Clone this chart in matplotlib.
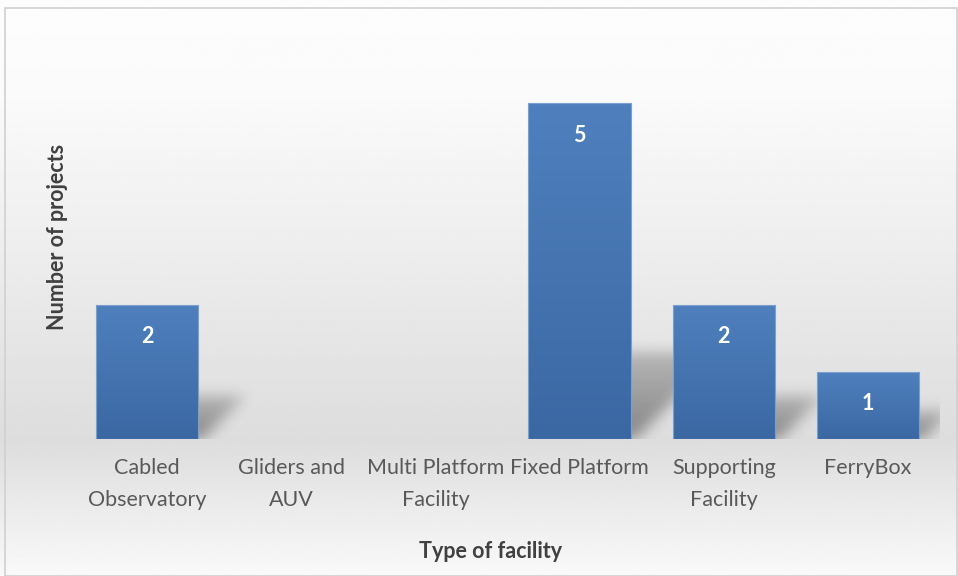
import matplotlib.pyplot as plt
import numpy as np
from matplotlib.patches import Rectangle
from matplotlib.colors import LinearSegmentedColormap

categories = ["Cabled\nObservatory", "Gliders and\nAUV", "Multi Platform\nFacility",
              "Fixed Platform", "Supporting\nFacility", "FerryBox"]
projects = [2, 0, 0, 5, 2, 1]

plt.rcParams['font.family'] = ['Lato', 'DejaVu Sans']

fig = plt.figure(figsize=(9.58, 5.76), dpi=100)

# background gradient over the whole chart
bg = fig.add_axes([0, 0, 1, 1], zorder=-10)
rows = np.linspace(0, 576, 300)
shade = np.interp(rows, [0, 100, 440, 576], [253, 250, 221, 249]) / 255.0
bg.imshow(np.repeat(shade[:, None], 2, axis=1), cmap='gray', vmin=0, vmax=1,
          aspect='auto', extent=[0, 1, 0, 1], interpolation='bilinear')
bg.add_patch(Rectangle((5 / 958, 0.5 / 576), 952 / 958, 1 - 8.5 / 576, fill=False,
                       edgecolor='#d0d0d0', linewidth=1.2, transform=bg.transAxes))
bg.set_xlim(0, 1)
bg.set_ylim(0, 1)
bg.axis('off')

ax = fig.add_axes([75 / 958, 1 - 439 / 576, 865 / 958, 403 / 576])
ax.patch.set_alpha(0)

px_x, px_y = 865 / 6, 403 / 6  # pixels per data unit
width = 0.71


def blur(a, sigma):
    k = np.exp(-0.5 * (np.arange(-3 * sigma, 3 * sigma + 1) / sigma) ** 2)
    k /= k.sum()
    a = np.apply_along_axis(lambda r: np.convolve(r, k, mode='same'), 1, a)
    return np.apply_along_axis(lambda c: np.convolve(c, k, mode='same'), 0, a)


def bar_shadow(h_px):
    # skewed, blurred copy of the bar footprint falling up and to the right
    d = 14 + 0.22 * h_px
    w = width * px_x
    gx, gy = np.meshgrid(np.arange(-30, d + 30), np.arange(-12, d + 30))
    inside = (gy >= 0) & (gy <= d) & (gx <= gy + 4) & (gx >= gy - w)
    a = inside * (0.40 - 0.2 * np.clip(gy / d, 0, 1))
    a = blur(a, 7)
    a[gy < 0] *= np.clip(1 + gy[gy < 0] / 4, 0, 1)
    img = np.zeros(a.shape + (4,))
    img[..., 3] = a
    ext = [gx.min() / px_x, gx.max() / px_x, gy.min() / px_y, gy.max() / px_y]
    return img, ext


x = np.arange(len(categories))
grad = np.linspace(0, 1, 100)[:, None]
cmap = LinearSegmentedColormap.from_list('b', ['#3b68a3', '#4f80bd'])
for xi, v in zip(x, projects):
    if v <= 0:
        continue
    xr = xi + width / 2
    img, ext = bar_shadow(v * px_y)
    ax.imshow(img, origin='lower', aspect='auto', interpolation='bilinear', zorder=1,
              extent=[xr + ext[0], xr + ext[1], ext[2], ext[3]])
    rect = Rectangle((xi - width / 2, 0), width, v, facecolor='none',
                     edgecolor='#7aa0cf', linewidth=0.8, zorder=3)
    ax.add_patch(rect)
    im = ax.imshow(grad, cmap=cmap, aspect='auto', origin='lower',
                   extent=[xi - width / 2, xi + width / 2, 0, v], zorder=2,
                   interpolation='bilinear')
    im.set_clip_path(rect)
    ax.annotate(str(v), (xi, v), xytext=(0, -23), textcoords='offset points',
                ha='center', va='center', color='white', fontsize=15.5, fontweight='bold',
                zorder=4)

ax.set_xlim(-0.5, 5.5)
ax.set_ylim(0, 6)
ax.set_xticks(x)
ax.set_xticklabels(categories, fontsize=15.5, color='#595959', linespacing=1.75)
ax.tick_params(axis='x', length=0, pad=14)
ax.set_yticks([])
for sp in ax.spines.values():
    sp.set_visible(False)

fig.text(57 / 958, 1 - 237 / 576, "Number of projects", rotation=90, ha='center', va='center',
         fontsize=15.5, fontweight='bold', color='#404040')
fig.text(491 / 958, 1 - 551 / 576, "Type of facility", ha='center', va='center',
         fontsize=15.5, fontweight='bold', color='#404040')

fig.savefig("out.png", dpi=100)
